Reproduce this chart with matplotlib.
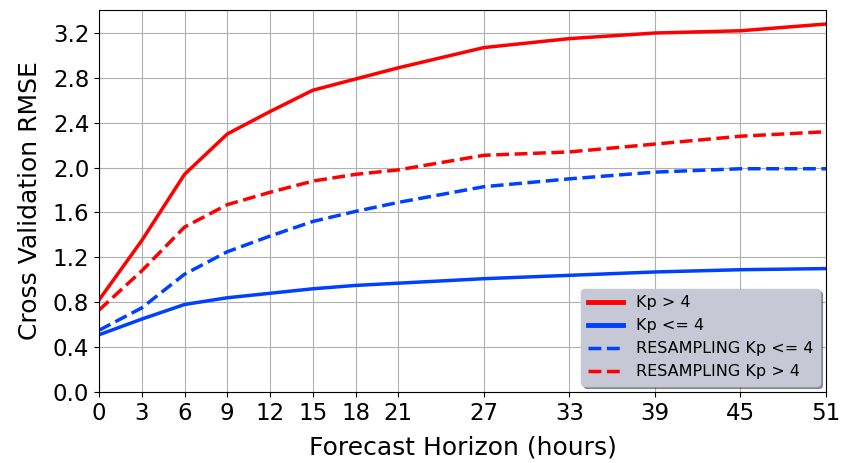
import numpy as np
import matplotlib.pyplot as plt

# forecast horizons (hours)
horizon = [0, 3, 6, 9, 12, 15, 18, 21, 27, 33, 39, 45, 51]

# RMSE values
rmse_kp_high = [0.82, 1.35, 1.94, 2.30, 2.50, 2.69, 2.79, 2.89, 3.07, 3.15, 3.20, 3.22, 3.28]
rmse_kp_low = [0.51, 0.65, 0.78, 0.84, 0.88, 0.92, 0.95, 0.97, 1.01, 1.04, 1.07, 1.09, 1.10]
rmse_res_low = [0.55, 0.75, 1.05, 1.25, 1.39, 1.52, 1.61, 1.69, 1.83, 1.90, 1.96, 1.99, 1.99]
rmse_res_high = [0.73, 1.08, 1.47, 1.67, 1.78, 1.88, 1.94, 1.98, 2.11, 2.14, 2.21, 2.28, 2.32]

red = '#ff0000'
blue = '#0040ff'

fig = plt.figure(figsize=(8.45, 4.63), dpi=100)
ax = fig.add_axes([99 / 845, 1 - 392 / 463, 727 / 845, 382 / 463])

ax.plot(horizon, rmse_kp_high, color=red, lw=2.5, label='Kp > 4')
ax.plot(horizon, rmse_kp_low, color=blue, lw=2.5, label='Kp <= 4')
ax.plot(horizon, rmse_res_low, color=blue, lw=2.5, ls='--', label='RESAMPLING Kp <= 4')
ax.plot(horizon, rmse_res_high, color=red, lw=2.5, ls='--', label='RESAMPLING Kp > 4')

ax.set_xlim(0, 51)
ax.set_ylim(0, 3.405)
ax.set_xticks(horizon)
ax.set_yticks(np.arange(0, 3.21, 0.4))
ax.set_yticklabels([f'{v:.1f}' for v in np.arange(0, 3.21, 0.4)])
ax.tick_params(labelsize=16.5)
ax.grid(True, color='#b0b0b0', lw=0.8)
ax.set_axisbelow(True)

ax.set_xlabel('Forecast Horizon (hours)', fontsize=18, labelpad=8)
ax.set_ylabel('Cross Validation RMSE', fontsize=18, labelpad=8)

leg = ax.legend(loc='lower right', fontsize=11.5, shadow=True, fancybox=True,
                facecolor='#c6c8d6', framealpha=1, edgecolor='#c6c8d6',
                handlelength=2.2, borderaxespad=0.4)
for line in leg.get_lines()[:2]:
    line.set_linewidth(3.5)

fig.savefig('out.png', dpi=100)
